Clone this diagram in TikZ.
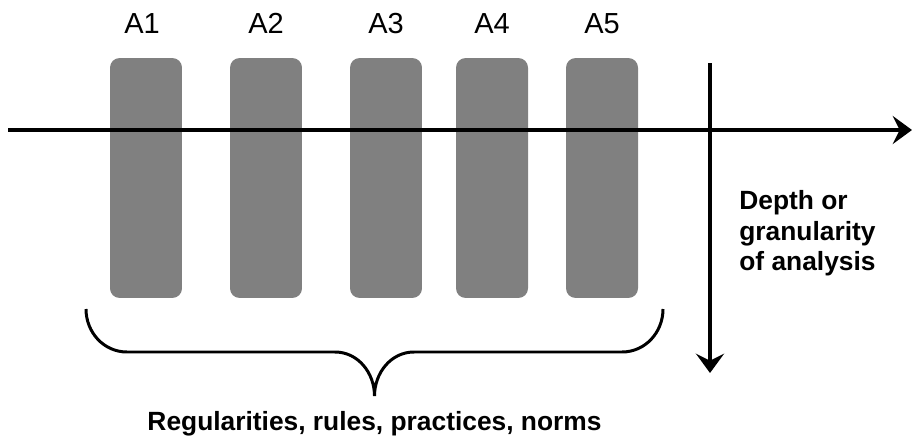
\documentclass[tikz,border=0pt]{standalone}
\usepackage{fontspec}
\setmainfont{Liberation Sans}
\usetikzlibrary{arrows.meta}

\tikzset{
  block/.style={fill=black!50, rounded corners=5.5pt, minimum width=1.44cm, minimum height=4.8cm, inner sep=0pt},
  alabel/.style={font=\fontsize{16.5}{19}\selectfont, anchor=base},
  axis/.style={line width=2.8pt, -{Stealth[length=11pt,width=16pt,inset=4pt]}},
  note/.style={font=\bfseries\fontsize{15}{17.5}\selectfont, align=left, inner sep=0pt},
  brace/.style={line width=1.7pt}
}

\begin{document}
\begin{tikzpicture}[x=0.02cm, y=-0.02cm]
            \useasboundingbox (0,0) rectangle (912,436);

            % the five activities
            \foreach \i/\x/\lx in {1/146/142, 2/266/266, 3/386/386, 4/492/492, 5/602/602} {
                \node[block] (box\i) at (\x,178) {};
                \node[alabel] (lab\i) at (\lx,33) {A\i};
            }

            % axes
            \coordinate (hstart) at (8,130);
            \coordinate (hend) at (912,130);
            \coordinate (vstart) at (710,63);
            \coordinate (vend) at (710,373);
            \draw[axis] (hstart) -- (hend);
            \draw[axis] (vstart) -- (vend);

            \node[note, anchor=north west] (depth) at (739,190) {Depth or\\granularity\\of analysis};

            % brace
            \coordinate (bl) at (86,309);
            \coordinate (br) at (663,309);
            \coordinate (btip) at (374.5,396);
            \draw[brace] (bl) to[out=-90,in=180] (127,352) -- (335,352)
                to[out=0,in=90] (btip) to[out=90,in=180] (414,352) -- (622,352)
                to[out=0,in=-90] (br);

            \node[note, anchor=base] (norms) at (374.5,430) {Regularities, rules, practices, norms};
        \end{tikzpicture}
\end{document}
